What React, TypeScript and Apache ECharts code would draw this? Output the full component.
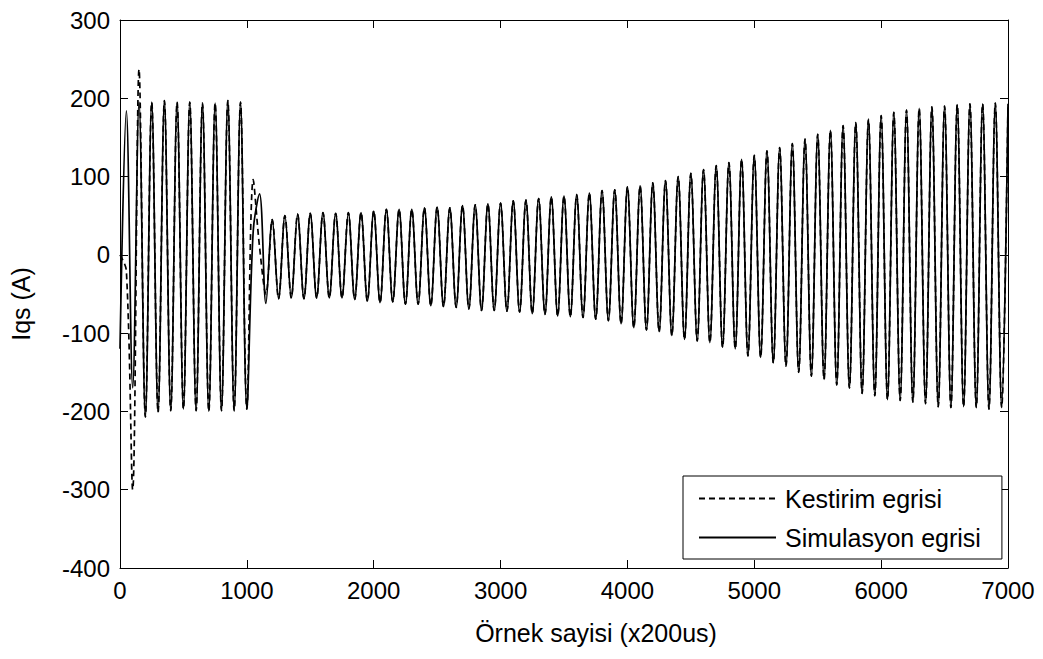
import React, { useEffect, useRef } from "react";
import * as echarts from "echarts";

// Sample index axis (x200us) and current axis (A)
const xTicks = [0, 1000, 2000, 3000, 4000, 5000, 6000, 7000];
const yTicks = [-400, -300, -200, -100, 0, 100, 200, 300];

// Half period between successive extrema, in samples (50 Hz at 200us => 100 samples/cycle)
const HALF = 50;

// Simulation curve: value at sample 0
const simStart = -120;
// Full-load section: peaks at 50,150,...,950 and troughs at 100,200,...,1000
const fullPeaks = [184, 195, 195, 197, 195, 195, 194, 194, 197, 195];
const fullTroughs = [-170, -207, -201, -199, -197, -199, -200, -199, -199, -197];
// Transition after the load change: values at 1050 and 1100
const transitionSim = [30, 78];
// Light-load section: troughs at 1150,1250,...,6950 and peaks at 1200,1300,...,7000
const lightTroughs = [
  -62, -56, -55, -56, -55, -55, -55, -57, -59, -61, -60, -63, -63, -65, -66, -67, -69, -71, -71, -72,
  -73, -75, -76, -78, -79, -80, -82, -84, -88, -93, -96, -98, -103, -108, -110, -112, -118, -120, -129,
  -131, -138, -142, -150, -155, -159, -166, -170, -177, -180, -185, -186, -188, -190, -194, -195, -194,
  -195, -197, -195,
];
const lightPeaks = [
  45, 50, 52, 53, 54, 53, 54, 54, 56, 58, 58, 58, 60, 61, 60, 63, 64, 65, 66, 69, 70, 72, 74, 75, 77,
  79, 82, 83, 87, 88, 92, 95, 100, 104, 109, 114, 118, 122, 127, 133, 137, 142, 148, 154, 159, 165, 169,
  173, 178, 182, 185, 187, 189, 190, 192, 193, 193, 194, 193,
];

// Estimation curve: where it departs from the simulation curve (sample, value)
const estStartSamples = [0, 50, 100, 150];
const estStartValues = [0, -20, -300, 237];
const estTransitionSamples = [1050, 1100, 1150];
const estTransitionValues = [96, 10, -50];

function buildSim(): [number, number][] {
  const pts: [number, number][] = [[0, simStart]];
  for (let i = 0; i < fullPeaks.length; i++) {
    pts.push([HALF + i * 2 * HALF, fullPeaks[i]]);
    pts.push([2 * HALF + i * 2 * HALF, fullTroughs[i]]);
  }
  pts.push([1050, transitionSim[0]]);
  pts.push([1100, transitionSim[1]]);
  for (let i = 0; i < lightTroughs.length; i++) {
    pts.push([1150 + i * 2 * HALF, lightTroughs[i]]);
    pts.push([1200 + i * 2 * HALF, lightPeaks[i]]);
  }
  return pts;
}

function buildEst(sim: [number, number][]): [number, number][] {
  const over = new Map<number, number>();
  estStartSamples.forEach((s, i) => over.set(s, estStartValues[i]));
  estTransitionSamples.forEach((s, i) => over.set(s, estTransitionValues[i]));
  return sim.map(([x, y]) => [x, over.has(x) ? (over.get(x) as number) : y]);
}

const FONT = "'Liberation Sans', Arial, sans-serif";

export default function App() {
  const ref = useRef<HTMLDivElement>(null);
  useEffect(() => {
    if (!ref.current) return;
    const chart = echarts.init(ref.current, undefined, { renderer: "svg" });
    const sim = buildSim();
    const est = buildEst(sim);
    const axisCommon = {
      axisLine: { show: true, onZero: false, lineStyle: { color: "#000", width: 1 } },
      axisTick: { show: true, inside: true, length: 8, lineStyle: { color: "#000", width: 1 } },
      splitLine: { show: false },
    };
    const plain = (v: number) => String(v);
    chart.setOption({
      animation: false,
      backgroundColor: "#fff",
      textStyle: { fontFamily: FONT },
      grid: { left: 118, top: 20, width: 890, height: 548, containLabel: false },
      xAxis: [
        {
          type: "value",
          position: "bottom",
          min: xTicks[0],
          max: xTicks[xTicks.length - 1],
          interval: 1000,
          ...axisCommon,
          axisLabel: { fontSize: 24, color: "#000", margin: 10, fontFamily: FONT, formatter: plain },
          name: "Örnek sayisi (x200us)",
          nameLocation: "middle",
          nameGap: 52,
          nameTextStyle: { fontSize: 25, color: "#000", fontFamily: FONT, padding: [0, 0, 0, 64] },
        },
        {
          type: "value",
          position: "top",
          min: xTicks[0],
          max: xTicks[xTicks.length - 1],
          interval: 1000,
          ...axisCommon,
          axisLabel: { show: false },
        },
      ],
      yAxis: [
        {
          type: "value",
          position: "left",
          min: yTicks[0],
          max: yTicks[yTicks.length - 1],
          interval: 100,
          ...axisCommon,
          axisLabel: { fontSize: 24, color: "#000", margin: 10, fontFamily: FONT, formatter: plain },
          name: "Iqs (A)",
          nameLocation: "middle",
          nameGap: 87,
          nameRotate: 90,
          nameTextStyle: { fontSize: 25, color: "#000", fontFamily: FONT, padding: [0, 20, 0, 0] },
        },
        {
          type: "value",
          position: "right",
          min: yTicks[0],
          max: yTicks[yTicks.length - 1],
          interval: 100,
          ...axisCommon,
          axisLabel: { show: false },
        },
      ],
      legend: {
        orient: "vertical",
        left: 683,
        top: 476,
        padding: [10, 21, 9, 15],
        itemGap: 14,
        itemWidth: 77,
        itemHeight: 14,
        borderColor: "#000",
        borderWidth: 1,
        borderRadius: 0,
        backgroundColor: "#fff",
        itemStyle: { color: "transparent", borderWidth: 0, opacity: 0 },
        textStyle: { fontSize: 25, color: "#000", fontFamily: FONT, lineHeight: 25, padding: [0, 0, 0, 4] },
        data: ["Kestirim egrisi", "Simulasyon egrisi"],
      },
      series: [
        {
          name: "Kestirim egrisi",
          type: "line",
          data: est,
          symbol: "none",
          showSymbol: false,
          smooth: 0.35,
          lineStyle: { color: "#000", width: 1.7, type: [6, 4] },
          itemStyle: { color: "#000" },
          z: 2,
        },
        {
          name: "Simulasyon egrisi",
          type: "line",
          data: sim,
          symbol: "none",
          showSymbol: false,
          smooth: 0.35,
          lineStyle: { color: "#000", width: 1.7 },
          itemStyle: { color: "#000" },
          z: 3,
        },
      ],
    });
    return () => chart.dispose();
  }, []);
  return (
    <div
      ref={ref}
      style={{ position: "fixed", left: 0, top: 0, width: 1043, height: 659, background: "#fff" }}
    />
  );
}
